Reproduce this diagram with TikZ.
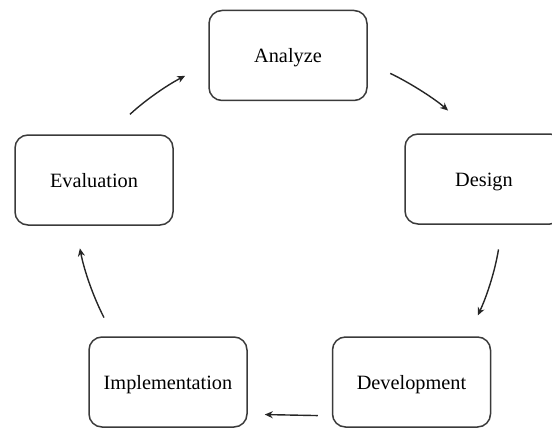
\documentclass[tikz,border=0pt]{standalone}
\usepackage{fontspec}
\setmainfont{Liberation Serif}
\usepackage{tikz}
\usetikzlibrary{positioning, arrows.meta}
\definecolor{boxGray}{HTML}{3A3A3A}

\tikzset{
  phase/.style={
    draw=boxGray,
    line width=1.5pt,
    rounded corners=13pt,
    minimum width=158pt,
    minimum height=90pt,
    text height=17pt,
    text depth=2pt,
    align=center,
    font=\fontsize{20.3}{23}\selectfont
  },
  flow/.style={-{Stealth[length=8pt,width=7pt]}, line width=1.4pt, draw=black!85}
}

\begin{document}
\begin{tikzpicture}[x=1pt, y=-1pt]
\useasboundingbox (0,0) rectangle (552,428);

\node[phase] (analyze) at (288,55.5) {Analyze};
\node[phase] (design) at (484,179) {Design};
\node[phase] (evaluation) at (94,180) {Evaluation};
\node[phase] (implementation) at (168,382) {Implementation};
\node[phase, right=84pt of implementation] (development) {Development};

\draw[flow, shorten <=25pt, shorten >=34pt]
(analyze.-5) to[bend left=8] (design.103);

\draw[flow, shorten <=25pt, shorten >=23pt]
(design.-68) to[bend left=8] (development.39);

\draw[flow, shorten <=14pt, shorten >=17pt]
(development.-157) -- (implementation.-22);

\draw[flow, shorten <=21pt, shorten >=23pt]
(implementation.140) to[bend left=8] (evaluation.-112);

\draw[flow, shorten <=29pt, shorten >=26pt]
(evaluation.72) to[bend left=8] (analyze.-174.5);

\end{tikzpicture}
\end{document}
